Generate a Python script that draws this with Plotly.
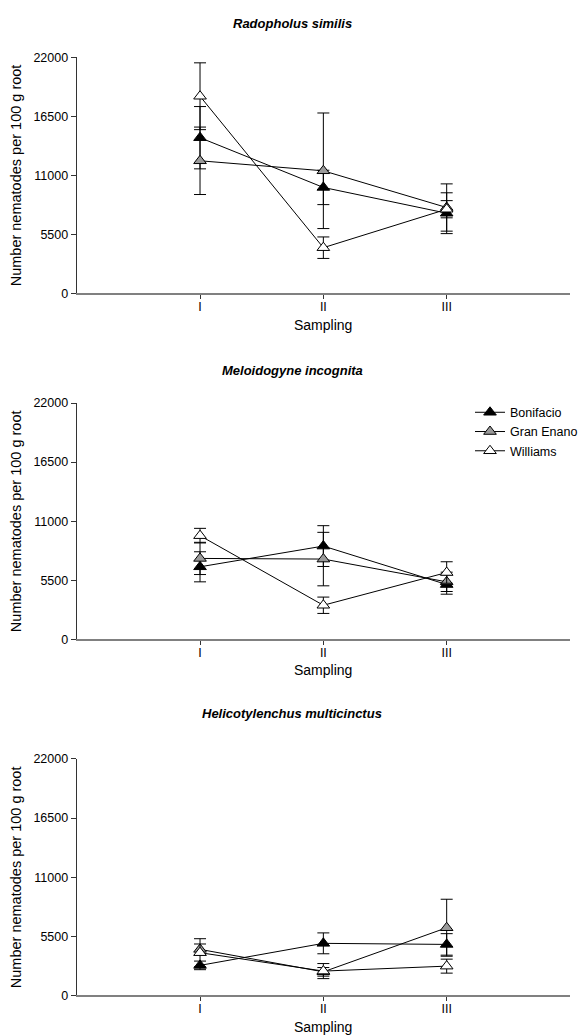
import plotly.graph_objects as go

W, H = 583, 1035

samplings = ["I", "II", "III"]
varieties = ["Bonifacio", "Gran Enano", "Williams"]
species = ["Radopholus similis", "Meloidogyne incognita", "Helicotylenchus multicinctus"]

# Radopholus similis
rs_bonifacio = [14500, 9870, 7470]
rs_bonifacio_err = [2900, 1600, 1900]
rs_gran = [12350, 11420, 8000]
rs_gran_err = [3140, 5380, 2200]
rs_williams = [18360, 4260, 7840]
rs_williams_err = [3110, 1000, 800]

# Meloidogyne incognita
mi_bonifacio = [6750, 8680, 5100]
mi_bonifacio_err = [1400, 1900, 900]
mi_gran = [7530, 7470, 5350]
mi_gran_err = [1500, 2490, 900]
mi_williams = [9650, 3170, 6220]
mi_williams_err = [680, 760, 1000]

# Helicotylenchus multicinctus
hm_bonifacio = [2800, 4850, 4750]
hm_bonifacio_err = [400, 970, 1000]
hm_gran = [4290, 2200, 6300]
hm_gran_err = [500, 400, 2650]
hm_williams = [3980, 2270, 2730]
hm_williams_err = [1300, 700, 650]

y_ticks = [0, 5500, 11000, 16500, 22000]

panels = [
    (rs_bonifacio, rs_bonifacio_err, rs_gran, rs_gran_err, rs_williams, rs_williams_err),
    (mi_bonifacio, mi_bonifacio_err, mi_gran, mi_gran_err, mi_williams, mi_williams_err),
    (hm_bonifacio, hm_bonifacio_err, hm_gran, hm_gran_err, hm_williams, hm_williams_err),
]

fill_colors = ["#000000", "#9a9a9a", "#ffffff"]
FONT = "Arial, Liberation Sans, sans-serif"

# plot area pixel geometry (top, bottom) for each panel
x_left, x_right = 76.7, 570
panel_px = [(58.3, 294.0), (403.3, 639.0), (758.3, 994.3)]
title_px = [25, 371, 713]


def vfix(r):
    # compensate the slight vertical squeeze seen in the rendered page
    return 517.5 + (r - 517.5) / 0.984


def py(p):
    return 1 - p / H


def px(p):
    return p / W


fig = go.Figure()
annotations = []
for i, data in enumerate(panels):
    xa = "x" if i == 0 else f"x{i+1}"
    ya = "y" if i == 0 else f"y{i+1}"
    for k in range(3):
        vals = data[2 * k]
        errs = data[2 * k + 1]
        fig.add_trace(go.Scatter(
            x=samplings, y=vals, xaxis=xa, yaxis=ya,
            name=varieties[k], showlegend=(i == 1),
            mode="lines+markers",
            line=dict(color="black", width=1),
            marker=dict(symbol="triangle-up", size=11, color=fill_colors[k],
                        line=dict(color="black", width=1)),
            error_y=dict(type="data", array=errs, visible=True,
                         color="black", thickness=1, width=6),
        ))
    top, bot = panel_px[i]
    dom_y = [py(vfix(bot)), py(vfix(top))]
    axis_x = dict(domain=[px(x_left), px(x_right)], type="category",
                  categoryorder="array", categoryarray=samplings,
                  range=[-1, 3], showgrid=False, zeroline=False,
                  showline=True, linecolor="#808080", linewidth=1.5,
                  ticks="outside", ticklen=4, tickcolor="#333333",
                  ticklabelstandoff=-3,
                  tickfont=dict(family=FONT, size=12.5, color="black"),
                  anchor=ya)
    axis_y = dict(domain=dom_y, range=[0, 22000], tickvals=y_ticks,
                  ticktext=[str(v) for v in y_ticks],
                  showgrid=False, zeroline=False, showline=True,
                  linecolor="#333333", linewidth=1, ticks="outside",
                  ticklen=5, tickcolor="#333333",
                  tickfont=dict(family=FONT, size=12.5, color="black"),
                  anchor=xa)
    fig.update_layout(**{("xaxis" if i == 0 else f"xaxis{i+1}"): axis_x,
                         ("yaxis" if i == 0 else f"yaxis{i+1}"): axis_y})
    annotations.append(dict(text=f"<b><i>{species[i]}</i></b>", x=px(292),
                            y=py(vfix(title_px[i])), xref="paper", yref="paper",
                            showarrow=False, xanchor="center", yanchor="middle",
                            font=dict(family=FONT, size=13, color="black")))
    annotations.append(dict(text="Number nematodes per 100 g root", x=px(16),
                            y=py(vfix((top + bot) / 2)), xref="paper", yref="paper",
                            textangle=-90, showarrow=False, xanchor="center",
                            yanchor="middle",
                            font=dict(family=FONT, size=14.5, color="black")))
    annotations.append(dict(text="Sampling", x=px(323), y=py(vfix(bot + 31)),
                            xref="paper", yref="paper", showarrow=False,
                            xanchor="center", yanchor="middle",
                            font=dict(family=FONT, size=14, color="black")))

fig.update_layout(
    width=W, height=H, margin=dict(l=0, r=0, t=0, b=0),
    paper_bgcolor="white", plot_bgcolor="white",
    annotations=annotations,
    legend=dict(x=px(470), y=py(396), xanchor="left", yanchor="top",
                font=dict(family=FONT, size=12.5, color="black"),
                bgcolor="rgba(0,0,0,0)", tracegroupgap=0, itemwidth=30),
)

fig.write_html("out.html")
